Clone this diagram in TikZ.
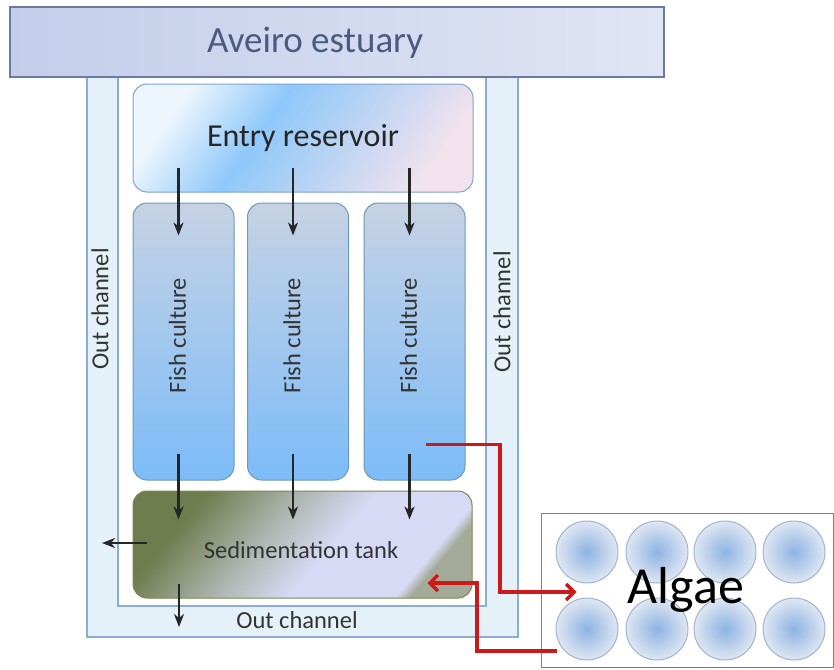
\documentclass[tikz,border=0pt]{standalone}
\usepackage{fontspec}
\setmainfont{Carlito}
\usetikzlibrary{arrows.meta}

\definecolor{estfill}{HTML}{C4CEEA}
\definecolor{estfillb}{HTML}{E0E5F4}
\definecolor{estline}{HTML}{6A7AA2}
\definecolor{esttext}{HTML}{4A5A80}
\definecolor{chanfill}{HTML}{E4F1F8}
\definecolor{chanline}{HTML}{8CACD8}
\definecolor{entA}{HTML}{EEF6FD}
\definecolor{entB}{HTML}{8EC8FA}
\definecolor{entC}{HTML}{B4D2F4}
\definecolor{entD}{HTML}{F2E2EE}
\definecolor{entline}{HTML}{7EA4CC}
\definecolor{fishtop}{HTML}{C6D2E4}
\definecolor{fishmid}{HTML}{A6C8EE}
\definecolor{fishbot}{HTML}{7CBCF8}
\definecolor{fishline}{HTML}{6C9AB2}
\definecolor{sedA}{HTML}{6E7C4E}
\definecolor{sedB}{HTML}{B2BAB8}
\definecolor{sedC}{HTML}{D6DAF4}
\definecolor{sedD}{HTML}{A4AA98}
\definecolor{sedline}{HTML}{7A8850}
\definecolor{algline}{HTML}{808080}
\definecolor{cellin}{HTML}{8DB3E2}
\definecolor{cellout}{HTML}{DFE6F2}
\definecolor{cellline}{HTML}{A0B4D0}
\definecolor{recred}{HTML}{CC1A1A}

\pgfdeclarehorizontalshading{entryshade}{100bp}{color(0bp)=(entA); color(25bp)=(entA);
  color(42bp)=(entB); color(55bp)=(entC); color(75bp)=(entD); color(100bp)=(entD)}
\pgfdeclarehorizontalshading{sedshade}{100bp}{color(0bp)=(sedA); color(27bp)=(sedA);
  color(44bp)=(sedB); color(55bp)=(sedC); color(72.5bp)=(sedC); color(75bp)=(sedD); color(100bp)=(sedD)}

\tikzset{
  chanbox/.style={draw=chanline, line width=1.2pt, fill=chanfill},
  innerbox/.style={draw=chanline, line width=1.2pt, fill=white},
  estbox/.style={draw=estline, line width=1.2pt, left color=estfill, right color=estfillb},
  entrybox/.style={draw=entline, line width=1pt, rounded corners=14pt, shading=entryshade, shading angle=-35},
  fishbox/.style={draw=fishline, line width=1pt, rounded corners=14pt,
    top color=fishtop, middle color=fishmid, bottom color=fishbot},
  sedbox/.style={draw=sedline, line width=1pt, rounded corners=14pt, shading=sedshade, shading angle=-40},
  algbox/.style={draw=algline, line width=1pt, fill=white},
  cell/.style={circle, draw=cellline, line width=1pt, inner color=cellin, outer color=cellout, minimum size=62pt},
  flow/.style={draw=black!85, line width=2.3pt, -{Stealth[length=13pt,width=10pt,inset=4pt]}},
  recirc/.style={draw=recred, line width=3.4pt, -{Straight Barb[length=8pt,width=16pt]}},
  midtext/.style={font=\fontsize{24.5}{28}\selectfont, text=black!80},
}

\begin{document}
\begin{tikzpicture}[x=1pt,y=-1pt]
  \useasboundingbox (0,0) rectangle (834,669);

  % channels round the ponds
  \node[chanbox, minimum width=431pt, minimum height=560pt] (outch) at (302.5,357) {};
  \node[innerbox, minimum width=368pt, minimum height=529pt] (inner) at (302,341.5) {};

  % estuary on top
  \node[estbox, minimum width=654pt, minimum height=70pt] (estuary) at (337,42) {};
  \node[font=\fontsize{37}{42}\selectfont, text=esttext] (estlabel) at (315,43) {Aveiro estuary};

  % entry reservoir
  \node[entrybox, minimum width=340pt, minimum height=108pt,
        font=\fontsize{32}{36}\selectfont, text=black!85] (entry) at (303,138) {Entry reservoir};

  % fish culture ponds
  \foreach \i/\x in {1/183.5, 2/298, 3/414.5} {
    \node[fishbox, minimum width=101pt, minimum height=277pt] (fish\i) at (\x,341.5) {};
    \node[midtext, rotate=90] (fishlab\i) at ([xshift=-6pt,yshift=6pt]fish\i.center) {Fish culture};
  }

  % sedimentation tank
  \node[sedbox, minimum width=339pt, minimum height=107pt] (sed) at (302.5,544.5) {};
  \node[midtext] (sedlab) at (301,550) {Sedimentation tank};

  % out channel labels
  \node[midtext, rotate=90] (outleft) at (100,309) {Out channel};
  \node[midtext, rotate=90] (outright) at (502,312) {Out channel};
  \node[midtext] (outbottom) at (297,620) {Out channel};

  % algae ponds
  \node[algbox, minimum width=292pt, minimum height=154pt] (algae) at (687,590) {};
  \foreach \r/\y in {1/552, 2/629}
    \foreach \c/\x in {1/587, 2/657, 3/725, 4/794}
      \node[cell] (cell\r\c) at (\x,\y) {};
  \node[font=\fontsize{52}{56}\selectfont, text=black] (alglab) at (686,590) {Algae};

  % water flow
  \foreach \i in {1,2,3} {
    \draw[flow] ([xshift=-5pt,yshift=35pt]fish\i.north) -- ([xshift=-5pt,yshift=-33pt]fish\i.north);
    \draw[flow] ([xshift=-5pt,yshift=27pt]fish\i.south) -- ([xshift=-5pt,yshift=-29pt]fish\i.south |- sed.north);
  }
  \coordinate (leftout) at (102,543);
  \coordinate (downout) at (179,627);
  \draw[flow] ([xshift=14pt]sed.west |- leftout) -- (leftout);
  \draw[flow] ([yshift=15pt]sed.south -| downout) -- (downout);

  % recirculation through the algae
  \coordinate (recup) at (500,592);
  \coordinate (algout) at (557,651);
  \coordinate (recdown) at (477,583);
  \draw[recirc] ([xshift=-40pt,yshift=36pt]fish3.south east) -| (recup) -- ([xshift=36pt]algae.west |- recup);
  \draw[recirc, line cap=butt] (algout) -| (recdown) -- ([xshift=-45pt]sed.south east |- recdown);
\end{tikzpicture}
\end{document}
